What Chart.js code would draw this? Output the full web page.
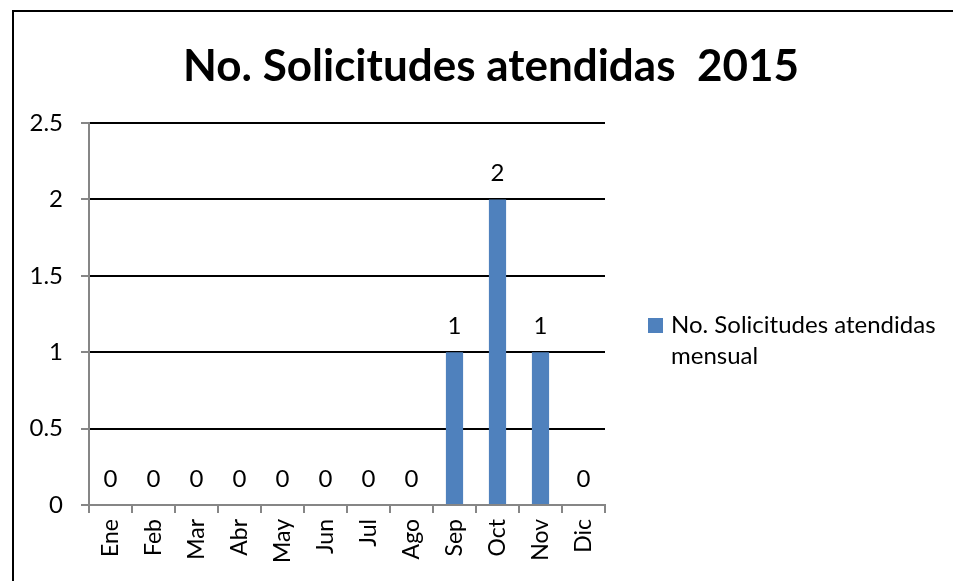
<!DOCTYPE html>
<html>
<head>
<meta charset="utf-8">
<script src="https://cdn.jsdelivr.net/npm/chart.js@4/dist/chart.umd.min.js"></script>
<style>
  html, body { margin: 0; padding: 0; background: #fff; overflow: hidden; }
  canvas { display: block; }
</style>
</head>
<body>
<canvas id="c" width="953" height="581"></canvas>
<script>
const chartTitle = 'No. Solicitudes atendidas  2015';
const seriesName = 'No. Solicitudes atendidas mensual';
const legendLines = ['No. Solicitudes atendidas', 'mensual'];
const categories = ['Ene', 'Feb', 'Mar', 'Abr', 'May', 'Jun', 'Jul', 'Ago', 'Sep', 'Oct', 'Nov', 'Dic'];
const values = [0, 0, 0, 0, 0, 0, 0, 0, 1, 2, 1, 0];
const yMin = 0, yMax = 2.5, yStep = 0.5;

const FONT = 'Lato, "Open Sans", sans-serif';
const barColor = '#4F81BD';
const axisGray = '#868686';

const decorPlugin = {
  id: 'decor',
  beforeDraw(chart) {
    const ctx = chart.ctx;
    ctx.save();
    ctx.fillStyle = '#fff';
    ctx.fillRect(0, 0, chart.width, chart.height);
    ctx.restore();
  },
  afterDraw(chart) {
    const ctx = chart.ctx;
    ctx.save();
    // outer frame (left and top edges visible)
    ctx.strokeStyle = '#000';
    ctx.lineWidth = 2;
    ctx.beginPath();
    ctx.moveTo(13, chart.height + 2);
    ctx.lineTo(13, 11);
    ctx.lineTo(chart.width + 2, 11);
    ctx.stroke();
    // title
    ctx.fillStyle = '#000';
    ctx.font = 'bold 44px ' + FONT;
    ctx.textAlign = 'center';
    ctx.textBaseline = 'alphabetic';
    ctx.fillText(chartTitle, 491, 81, 617);
    // data labels
    const meta = chart.getDatasetMeta(0);
    ctx.font = '24px ' + FONT;
    meta.data.forEach((el, i) => {
      ctx.fillText(String(values[i]), el.x, el.y - 18);
    });
    // legend
    ctx.fillStyle = barColor;
    ctx.fillRect(648, 318, 15, 15);
    ctx.fillStyle = '#000';
    ctx.textAlign = 'left';
    ctx.font = '24px ' + FONT;
    ctx.fillText(legendLines[0], 671, 333, 271);
    ctx.fillText(legendLines[1], 671, 364);
    ctx.restore();
  }
};

new Chart(document.getElementById('c'), {
  type: 'bar',
  data: {
    labels: categories,
    datasets: [{
      label: seriesName,
      data: values,
      backgroundColor: barColor,
      borderWidth: 0,
      categoryPercentage: 1.0,
      barPercentage: 0.4
    }]
  },
  options: {
    responsive: false,
    animation: false,
    devicePixelRatio: 1,
    layout: { padding: { left: 0, right: 348, top: 123, bottom: 0 } },
    plugins: {
      legend: { display: false },
      title: { display: false },
      tooltip: { enabled: false }
    },
    scales: {
      x: {
        offset: true,
        grid: { display: true, offset: true, drawOnChartArea: false, drawTicks: true, tickLength: 8, tickColor: axisGray, color: axisGray, lineWidth: 2 },
        border: { display: true, color: axisGray, width: 2 },
        ticks: { color: '#000', font: { family: FONT, size: 23 }, minRotation: 90, maxRotation: 90, padding: 6, autoSkip: false },
        afterFit(scale) { scale.height = 76; }
      },
      y: {
        min: yMin, max: yMax,
        grid: { color: '#000', lineWidth: 2, drawTicks: true, tickLength: 8, tickColor: axisGray },
        border: { display: true, color: axisGray, width: 2 },
        ticks: { stepSize: yStep, color: '#000', font: { family: FONT, size: 24 }, padding: 18,
                 callback: (v) => String(v) },
        afterFit(scale) { scale.width = 89; }
      }
    }
  },
  plugins: [decorPlugin]
});
</script>
</body>
</html>
